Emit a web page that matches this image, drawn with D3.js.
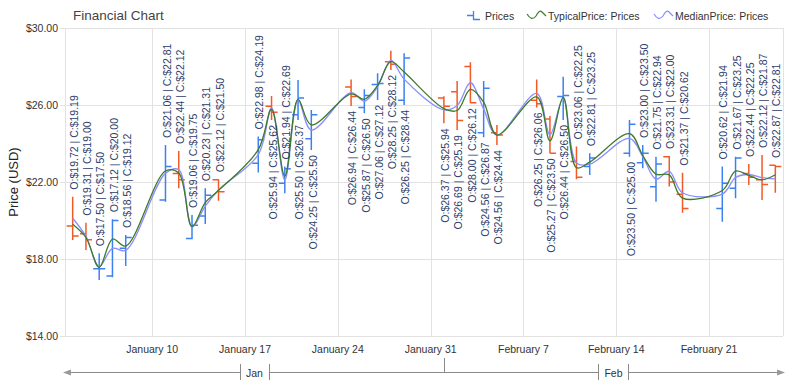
<!DOCTYPE html>
<html>
<head>
<meta charset="utf-8">
<script src="https://cdn.jsdelivr.net/npm/d3@7"></script>
<style>
  body { margin: 0; background: #fff; }
  svg { display: block; font-family: "Liberation Sans", Arial, sans-serif; }
</style>
</head>
<body>
<svg id="chart" width="794" height="387"></svg>
<script>
// ---- data (daily prices, Jan 4 - Feb 26 2010) ----
const dates = [
  '2010-01-04', '2010-01-05', '2010-01-06', '2010-01-07', '2010-01-08',
  '2010-01-11', '2010-01-12', '2010-01-13', '2010-01-14', '2010-01-15',
  '2010-01-18', '2010-01-19', '2010-01-20', '2010-01-21', '2010-01-22',
  '2010-01-25', '2010-01-26', '2010-01-27', '2010-01-28', '2010-01-29',
  '2010-02-01', '2010-02-02', '2010-02-03', '2010-02-04', '2010-02-05',
  '2010-02-08', '2010-02-09', '2010-02-10', '2010-02-11', '2010-02-12',
  '2010-02-15', '2010-02-16', '2010-02-17', '2010-02-18', '2010-02-19',
  '2010-02-22', '2010-02-23', '2010-02-24', '2010-02-25', '2010-02-26'
];
const openPrices = [
  19.72, 19.31, 17.50, 17.12, 18.56, 21.06, 22.44, 19.06, 20.23, 22.12,
  22.98, 25.94, 21.94, 25.50, 24.25, 26.94, 25.87, 27.06, 28.25, 26.25,
  26.37, 26.69, 28.00, 24.56, 24.56, 26.25, 25.27, 26.44, 23.06, 22.81,
  23.50, 23.00, 21.75, 23.31, 21.37, 20.62, 21.67, 22.44, 22.12, 22.87
];
const highPrices = [
  21.24, 19.88, 18.30, 20.06, 19.25, 23.92, 23.61, 20.29, 21.67, 22.14,
  24.36, 26.47, 22.80, 27.30, 25.74, 27.33, 26.82, 27.65, 28.82, 28.69,
  26.45, 27.25, 28.22, 27.25, 24.96, 27.33, 25.43, 27.47, 23.84, 23.49,
  25.22, 23.92, 23.31, 23.35, 22.48, 22.80, 23.31, 22.94, 23.40, 22.88
];
const lowPrices = [
  18.99, 18.47, 16.91, 17.05, 17.64, 20.98, 21.67, 19.02, 19.82, 21.03,
  22.49, 25.22, 21.41, 25.22, 23.66, 25.95, 25.57, 26.26, 27.82, 26.00,
  25.05, 24.70, 26.09, 24.32, 23.92, 25.87, 23.49, 25.22, 22.14, 22.36,
  23.31, 22.71, 20.98, 21.76, 20.40, 19.94, 21.15, 21.84, 21.06, 21.44
];
const closePrices = [
  19.19, 19.00, 17.50, 20.00, 19.12, 22.81, 22.12, 19.75, 21.31, 21.50,
  24.19, 25.62, 22.69, 26.37, 25.50, 26.44, 26.50, 27.12, 28.12, 28.44,
  25.94, 25.19, 26.12, 26.87, 24.44, 26.06, 23.50, 26.50, 22.25, 23.25,
  25.00, 23.50, 22.94, 22.00, 20.62, 21.94, 23.25, 22.25, 21.87, 22.81
];
const yTicks = [14, 18, 22, 26, 30];
const legendItems = ['Prices', 'TypicalPrice: Prices', 'MedianPrice: Prices'];

// ---- config ----
const UP_COLOR = '#3b82f0';
const DOWN_COLOR = '#f25a28';
const TYPICAL_COLOR = '#3d7a2a';
const MEDIAN_COLOR = '#8c8cff';
const GRID_COLOR = '#e2e2e2';
const LABEL_COLOR = '#2c3d6b';

const plot = { left: 65, right: 783, top: 28, bottom: 336 };
const DAY = 24 * 3600 * 1000;

const parseDate = d3.timeParse('%Y-%m-%d');
const bars = dates.map((d, i) => ({
  date: parseDate(d),
  open: openPrices[i],
  high: highPrices[i],
  low: lowPrices[i],
  close: closePrices[i]
}));

const pad = 0.58 * DAY;
const x = d3.scaleTime()
  .domain([new Date(+bars[0].date - pad), new Date(+bars[bars.length - 1].date + pad)])
  .range([plot.left, plot.right]);
const y = d3.scaleLinear().domain([14, 30]).range([plot.bottom, plot.top]);

const svg = d3.select('#chart');

// ---- title & legend ----
svg.append('text')
  .attr('x', 73).attr('y', 20)
  .attr('font-size', 13.5).attr('fill', '#444')
  .text('Financial Chart');

const legend = svg.append('g').attr('font-size', 10.5).attr('fill', '#333');
// prices glyph
legend.append('path')
  .attr('d', 'M467,15.5H473.5M473.5,11V20M473.5,19.5H480')
  .attr('stroke', UP_COLOR).attr('stroke-width', 1.3).attr('fill', 'none');
legend.append('text').attr('x', 485).attr('y', 19.5).text(legendItems[0]);
const wave = x0 => `M${x0},14 C${x0 + 3},19 ${x0 + 6},20 ${x0 + 9},16 C${x0 + 11},12 ${x0 + 13},10 ${x0 + 15},12 L${x0 + 19},16`;
legend.append('path').attr('d', wave(527))
  .attr('stroke', TYPICAL_COLOR).attr('stroke-width', 1.2).attr('fill', 'none');
legend.append('text').attr('x', 548).attr('y', 19.5).text(legendItems[1]);
legend.append('path').attr('d', wave(654))
  .attr('stroke', MEDIAN_COLOR).attr('stroke-width', 1.2).attr('fill', 'none');
legend.append('text').attr('x', 675).attr('y', 19.5).text(legendItems[2]);

// ---- grid ----
const grid = svg.append('g').attr('stroke', GRID_COLOR).attr('stroke-width', 1);
const weeks = x.ticks(d3.timeWeek.every(1));
grid.selectAll('.vg').data(weeks).join('line')
  .attr('x1', d => Math.round(x(d)) + 0.5).attr('x2', d => Math.round(x(d)) + 0.5)
  .attr('y1', plot.top).attr('y2', plot.bottom);
grid.selectAll('.hg').data(yTicks).join('line')
  .attr('x1', plot.left - 5).attr('x2', plot.right)
  .attr('y1', d => Math.round(y(d)) + 0.5).attr('y2', d => Math.round(y(d)) + 0.5);
grid.append('line').attr('x1', plot.left + 0.5).attr('x2', plot.left + 0.5)
  .attr('y1', plot.top).attr('y2', plot.bottom);
grid.append('line').attr('x1', plot.right + 0.5).attr('x2', plot.right + 0.5)
  .attr('y1', plot.top).attr('y2', plot.bottom);

// ---- y axis labels ----
svg.append('g').attr('font-size', 10.5).attr('fill', '#333').attr('text-anchor', 'end')
  .selectAll('text').data(yTicks).join('text')
  .attr('x', 58).attr('y', d => y(d) + 3.5)
  .text(d => '$' + d.toFixed(2));

svg.append('text')
  .attr('transform', `translate(18,${(plot.top + plot.bottom) / 2}) rotate(-90)`)
  .attr('text-anchor', 'middle').attr('font-size', 13).attr('fill', '#222')
  .text('Price (USD)');

// ---- x axis labels ----
const fmtDay = d3.timeFormat('%B %-d');
svg.append('g').attr('font-size', 10.5).attr('fill', '#333').attr('text-anchor', 'middle')
  .selectAll('text').data(weeks).join('text')
  .attr('x', d => x(d)).attr('y', 353)
  .text(fmtDay);

// ---- month band axis ----
const monthAxis = svg.append('g').attr('stroke', '#8a8a8a').attr('fill', 'none');
const [d0, d1] = x.domain();
const monthStarts = d3.timeMonth.range(d3.timeMonth.floor(d0), d1);
const fmtMonth = d3.timeFormat('%b');
const bandY = 372.5;
monthStarts.forEach((m, i) => {
  const s = Math.max(x(m), plot.left);
  const e = Math.min(x(d3.timeMonth.offset(m, 1)), plot.right);
  const cx = (s + e) / 2;
  const label = svg.append('text')
    .attr('x', cx).attr('y', bandY + 4)
    .attr('text-anchor', 'middle').attr('font-size', 10.5).attr('fill', '#333')
    .text(fmtMonth(m));
  const half = label.node().getComputedTextLength() / 2 + 6;
  monthAxis.append('line').attr('x1', s).attr('x2', cx - half).attr('y1', bandY).attr('y2', bandY);
  monthAxis.append('line').attr('x1', cx + half).attr('x2', e).attr('y1', bandY).attr('y2', bandY);
  [cx - half, cx + half].forEach(bx => {
    monthAxis.append('line').attr('x1', Math.round(bx) + 0.5).attr('x2', Math.round(bx) + 0.5)
      .attr('y1', 364).attr('y2', 380);
  });
  if (i > 0) {
    monthAxis.append('line').attr('x1', Math.round(s) + 0.5).attr('x2', Math.round(s) + 0.5)
      .attr('y1', 358).attr('y2', bandY);
  }
});
svg.append('path')
  .attr('d', `M${plot.left - 2},${bandY}L${plot.left + 6},${bandY - 3}L${plot.left + 6},${bandY + 3}Z`)
  .attr('fill', '#999');
svg.append('path')
  .attr('d', `M${plot.right + 2},${bandY}L${plot.right - 6},${bandY - 3}L${plot.right - 6},${bandY + 3}Z`)
  .attr('fill', '#999');

// ---- OHLC bars ----
const TICK = 6;
const ohlc = svg.append('g').attr('stroke-width', 1.5).attr('fill', 'none');
const barColor = d => d.close >= d.open ? UP_COLOR : DOWN_COLOR;
ohlc.selectAll('path').data(bars).join('path')
  .attr('stroke', barColor)
  .attr('d', d => {
    const cx = x(d.date);
    return `M${cx},${y(d.high)}V${y(d.low)}` +
      `M${cx - TICK},${y(d.open)}H${cx}` +
      `M${cx},${y(d.close)}H${cx + TICK}`;
  });

// ---- indicator lines ----
const typical = bars.map(d => ({ date: d.date, v: (d.high + d.low + d.close) / 3 }));
const median = bars.map(d => ({ date: d.date, v: (d.high + d.low) / 2 }));
const line = d3.line().x(d => x(d.date)).y(d => y(d.v)).curve(d3.curveCatmullRom.alpha(0.5));
svg.append('path').datum(median).attr('d', line)
  .attr('fill', 'none').attr('stroke', MEDIAN_COLOR).attr('stroke-width', 1.3);
svg.append('path').datum(typical).attr('d', line)
  .attr('fill', 'none').attr('stroke', TYPICAL_COLOR).attr('stroke-width', 1.3);

// ---- value labels ----
const fmtPrice = v => '$' + v.toFixed(2);
const labels = svg.append('g').attr('font-size', 10.5).attr('fill', LABEL_COLOR);
bars.forEach(d => {
  const cx = x(d.date) + 1.5;
  const t = labels.append('text')
    .attr('dy', '0.35em')
    .text(`O:${fmtPrice(d.open)} | C:${fmtPrice(d.close)}`);
  const len = t.node().getComputedTextLength();
  const topY = y(d.high) - 7;
  if (topY - len >= plot.top) {
    t.attr('text-anchor', 'start').attr('transform', `translate(${cx},${topY}) rotate(-90)`);
  } else {
    t.attr('text-anchor', 'end').attr('transform', `translate(${cx},${y(d.low) + 5}) rotate(-90)`);
  }
});
</script>
</body>
</html>
